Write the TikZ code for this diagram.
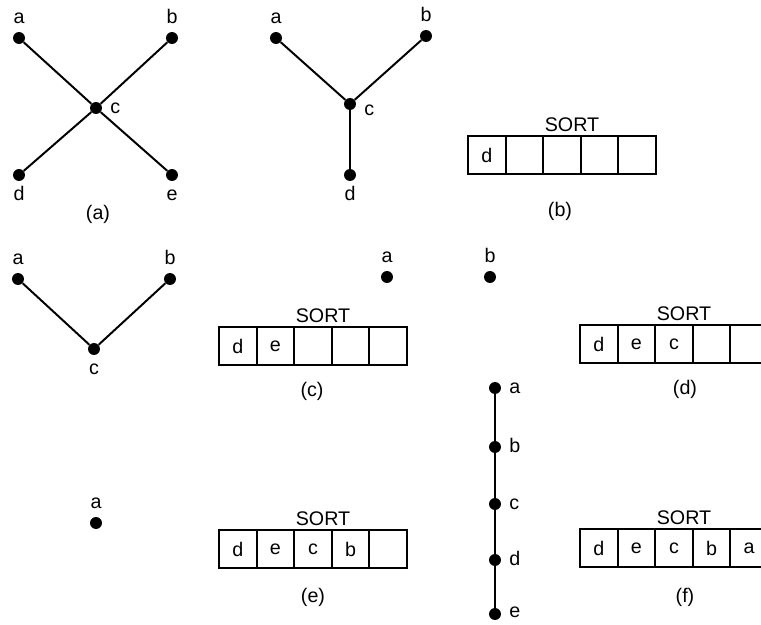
\documentclass[tikz,border=0pt]{standalone}
\usepackage{fontspec}
\setmainfont{Liberation Sans}
\usetikzlibrary{positioning}

\tikzset{
  dot/.style={circle, fill, inner sep=0pt, minimum size=8.5pt},
  lbl/.style={text height=1.5ex, text depth=0pt, inner sep=1.5pt},
  edge/.style={line width=1.4pt},
  cell/.style={draw, line width=1.3pt, minimum width=0.94cm, minimum height=0.95cm, inner sep=0pt},
  sortlbl/.style={inner sep=2pt},
}

\begin{document}
\begin{tikzpicture}[x=0.025cm, y=-0.025cm, font=\fontsize{14}{16}\selectfont,
    every label/.style={lbl}, label distance=4pt]
    \clip (0,0) rectangle (761,624);

    % (a) the cross through c
    \node[dot, label=above:a] (aa) at (19,38) {};
    \node[dot, label=above:b] (ab) at (172,38) {};
    \node[dot, label=right:c] (ac) at (96,108) {};
    \node[dot, label=below:d] (ad) at (19,175) {};
    \node[dot, label=below:e] (ae) at (172,175) {};
    \draw[edge] (aa) -- (ac) -- (ae);
    \draw[edge] (ab) -- (ac) -- (ad);
    \node at (98,214) {(a)};

    % (b) e removed
    \node[dot, label=above:a] (ba) at (276,38) {};
    \node[dot, label=above:b] (bb) at (426,36) {};
    \node[dot, label={[yshift=-4pt]right:c}] (bc) at (350,104) {};
    \node[dot, label=below:d] (bd) at (350,175) {};
    \draw[edge] (ba) -- (bc) -- (bb);
    \draw[edge] (bc) -- (bd);

    \foreach \t [count=\i] in {d,{},{},{},{}}
        \node[cell] (bs\i) at ({486.8+37.6*(\i-1)},155) {\t};
    \node[sortlbl, above=0pt of bs3.north, xshift=0.25cm] (bsort) {SORT};
    \node at (560,211) {(b)};

    % (c) d and e removed
    \node[dot, label=above:a] (ca) at (18,279) {};
    \node[dot, label=above:b] (cb) at (170,279) {};
    \node[dot, label=below:c] (cc) at (94,349) {};
    \draw[edge] (ca) -- (cc) -- (cb);

    \foreach \t [count=\i] in {d,e,{},{},{}}
        \node[cell] (cs\i) at ({237.8+37.6*(\i-1)},346) {\t};
    \node[sortlbl, above=0pt of cs3.north, xshift=0.25cm] (csort) {SORT};
    \node at (312,391) {(c)};

    % (d) only a and b left
    \node[dot, label=above:a] (da) at (387,277) {};
    \node[dot, label=above:b] (db) at (490,277) {};

    \foreach \t [count=\i] in {d,e,c,{},{}}
        \node[cell] (ds\i) at ({598.8+37.6*(\i-1)},344) {\t};
    \node[sortlbl, above=0pt of ds3.north, xshift=0.25cm] (dsort) {SORT};
    \node at (685,389) {(d)};

    % (e) a alone
    \node[dot, label=above:a] (ea) at (96,523) {};

    \foreach \t [count=\i] in {d,e,c,b,{}}
        \node[cell] (es\i) at ({237.8+37.6*(\i-1)},549) {\t};
    \node[sortlbl, above=0pt of es3.north, xshift=0.25cm] (esort) {SORT};
    \node at (313,597) {(e)};

    % (f) the sorted chain
    \node[dot, label=right:a] (fa) at (495,388) {};
    \node[dot, label=right:b] (fb) at (495,447) {};
    \node[dot, label=right:c] (fc) at (495,504) {};
    \node[dot, label=right:d] (fd) at (495,560) {};
    \node[dot, label={[yshift=1.5pt]right:e}] (fe) at (495,614) {};
    \draw[edge] (fa) -- (fb) -- (fc) -- (fd) -- (fe);

    \foreach \t [count=\i] in {d,e,c,b,a}
        \node[cell] (fs\i) at ({598.8+37.6*(\i-1)},548) {\t};
    \node[sortlbl, above=0pt of fs3.north, xshift=0.25cm] (fsort) {SORT};
    \node at (685,597) {(f)};
\end{tikzpicture}
\end{document}
